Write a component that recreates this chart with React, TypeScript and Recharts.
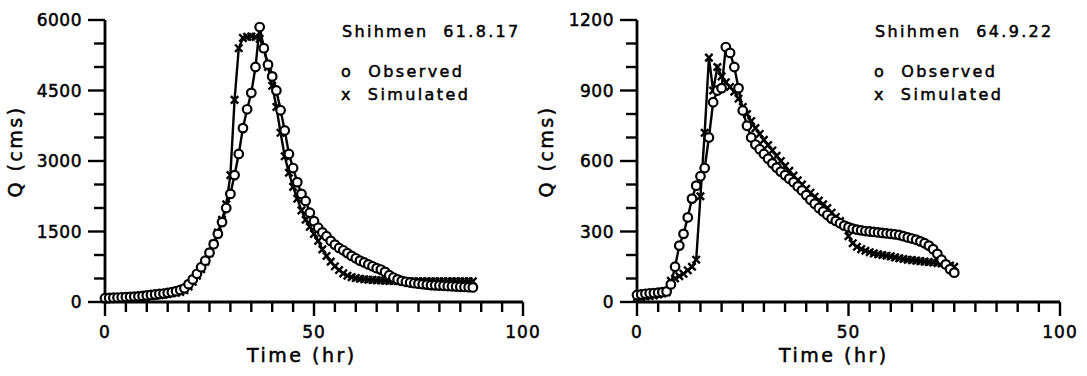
import { LineChart, Line, XAxis, YAxis } from 'recharts'

// Shihmen 61.8.17, hourly from t = 0
const obsA = [
  80, 85, 90, 95, 100, 105, 110, 115, 120, 130,
  140, 150, 160, 170, 180, 195, 210, 230, 255, 290,
  380, 480, 600, 740, 880, 1050, 1230, 1450, 1700, 2000,
  2300, 2700, 3150, 3700, 4100, 4450, 5000, 5850, 5400, 5050,
  4800, 4500, 4080, 3650, 3150, 2850, 2550, 2300, 2150, 1900,
  1720, 1580, 1480, 1400, 1300, 1220, 1150, 1100, 1040, 980,
  930, 880, 840, 800, 760, 720, 690, 640, 570, 520,
  480, 450, 430, 415, 400, 390, 380, 370, 360, 355,
  350, 345, 340, 335, 330, 325, 320, 315, 310,
]
const simA = [
  60, 65, 70, 75, 80, 85, 90, 95, 100, 105,
  115, 125, 135, 145, 155, 170, 185, 200, 215, 250,
  330, 430, 560, 700, 860, 1040, 1240, 1480, 1750, 2080,
  2700, 4300, 5400, 5620, 5640, 5650, 5640, 5600, 5400, 5000,
  4600, 4150, 3600, 3100, 2750, 2450, 2200, 1950, 1750, 1600,
  1450, 1300, 1120, 980, 860, 760, 680, 610, 560, 530,
  510, 495, 485, 475, 470, 465, 460, 455, 450, 448,
  446, 444, 442, 440, 440, 440, 440, 440, 440, 440,
  440, 440, 440, 440, 440, 440, 440, 440, 440,
]

// Shihmen 64.9.22, hourly from t = 0
const obsB = [
  30, 32, 35, 37, 38, 40, 42, 45, 75, 150,
  240, 290, 360, 440, 495, 535, 570, 700, 850, 900,
  910, 1085, 1060, 1000, 910, 815, 750, 700, 670, 650,
  630, 610, 590, 572, 555, 540, 525, 510, 492, 475,
  455, 435, 418, 400, 385, 370, 355, 345, 335, 325,
  318, 312, 308, 305, 302, 300, 298, 296, 294, 292,
  290, 288, 285, 280, 275, 270, 265, 258, 250, 240,
  225, 205, 180, 160, 140, 125,
]
const simB = [
  20, 22, 24, 26, 28, 32, 36, 42, 90, 100,
  110, 120, 135, 150, 180, 450, 720, 1040, 900, 1000,
  960, 935, 915, 895, 865, 830, 800, 770, 740, 715,
  690, 668, 645, 622, 600, 578, 558, 538, 518, 500,
  482, 465, 448, 432, 416, 400, 380, 362, 345, 325,
  280, 250, 235, 225, 218, 212, 207, 203, 200, 197,
  194, 190, 186, 183, 180, 178, 176, 174, 172, 170,
  168, 166, 164, 160, 155, 150,
]

const timeTicks = [0, 5, 10, 15, 20, 25, 30, 35, 40, 45, 50, 55, 60, 65, 70, 75, 80, 85, 90, 95, 100]
const qTicksA = [0, 500, 1000, 1500, 2000, 2500, 3000, 3500, 4000, 4500, 5000, 5500, 6000]
const qTicksB = [0, 100, 200, 300, 400, 500, 600, 700, 800, 900, 1000, 1100, 1200]

const font = '"DejaVu Sans", sans-serif'

const toRows = (obs: number[], sim: number[]) =>
  obs.map((q, i) => ({ t: i, obs: q, sim: sim[i] }))

function XTick({ x, y, payload }: any) {
  const major = payload.value % 50 === 0
  return (
    <g>
      <line x1={x} y1={y} x2={x} y2={y + (major ? 14 : 10)} stroke="#000" strokeWidth={2.4} />
      {major && (
        <text x={x} y={y + 36} textAnchor="middle" fontSize={17} fontFamily={font} fill="#000"
          stroke="#000" strokeWidth={0.5} letterSpacing={1}>
          {payload.value}
        </text>
      )}
    </g>
  )
}

function makeYTick(step: number) {
  return function YTick({ x, y, payload }: any) {
    const major = payload.value % step === 0
    return (
      <g>
        <line x1={x} y1={y} x2={x - (major ? 17 : 11)} y2={y} stroke="#000" strokeWidth={2.4} />
        {major && (
          <text x={x - 23} y={y} dy="0.36em" textAnchor="end" fontSize={17} fontFamily={font} fill="#000"
            stroke="#000" strokeWidth={0.5} letterSpacing={0.5}>
            {payload.value}
          </text>
        )}
      </g>
    )
  }
}

const circleDot = (p: any) => (
  <circle key={`o${p.index}`} cx={p.cx} cy={p.cy} r={4.3} fill="#fff" stroke="#000" strokeWidth={2.2} />
)
const crossDot = (p: any) => (
  <path
    key={`x${p.index}`}
    d={`M${p.cx - 3.7},${p.cy - 3.7}L${p.cx + 3.7},${p.cy + 3.7}M${p.cx - 3.7},${p.cy + 3.7}L${p.cx + 3.7},${p.cy - 3.7}`}
    stroke="#000"
    strokeWidth={2.4}
  />
)

function Panel({ rows, yMax, yTicks, step, width, margin }: any) {
  return (
    <LineChart width={width} height={376} data={rows} margin={margin}>
      <XAxis
        dataKey="t"
        type="number"
        domain={[0, 100]}
        ticks={timeTicks}
        interval={0}
        tickSize={0}
        tickMargin={0}
        tickLine={false}
        tick={<XTick />}
        axisLine={{ stroke: '#000', strokeWidth: 2.8 }}
        height={30}
      />
      <YAxis
        type="number"
        domain={[0, yMax]}
        ticks={yTicks}
        interval={0}
        tickSize={0}
        tickMargin={0}
        tickLine={false}
        tick={makeYTick(step)}
        axisLine={{ stroke: '#000', strokeWidth: 2.8 }}
        width={60}
      />
      <Line dataKey="sim" stroke="#000" strokeWidth={2.4} dot={crossDot} isAnimationActive={false} />
      <Line dataKey="obs" stroke="#000" strokeWidth={2.4} dot={circleDot} isAnimationActive={false} />
    </LineChart>
  )
}

const txt = (left: number, top: number, size: number, spacing: number) => ({
  position: 'absolute' as const,
  left,
  top,
  fontSize: size,
  letterSpacing: spacing,
  fontFamily: font,
  color: '#000',
  lineHeight: 1,
  whiteSpace: 'nowrap' as const,
  WebkitTextStroke: '0.5px #000',
})

export default function App() {
  return (
    <div style={{ position: 'absolute', left: 0, top: 0, width: 1087, height: 376, background: '#fff', overflow: 'hidden' }}>
      <div style={{ position: 'absolute', left: 0, top: 0 }}>
        <Panel
          rows={toRows(obsA, simA)}
          yMax={6000}
          yTicks={qTicksA}
          step={1500}
          width={540}
          margin={{ top: 20, right: 17, left: 45, bottom: 44 }}
        />
      </div>
      <div style={{ position: 'absolute', left: 540, top: 0 }}>
        <Panel
          rows={toRows(obsB, simB)}
          yMax={1200}
          yTicks={qTicksB}
          step={300}
          width={547}
          margin={{ top: 20, right: 27, left: 37, bottom: 44 }}
        />
      </div>

      <div style={txt(342, 24, 16, 2.3)}>Shihmen&nbsp;&nbsp;61.8.17</div>
      <div style={txt(341, 64, 16, 2.4)}>o&nbsp;&nbsp;Observed</div>
      <div style={txt(341, 87, 16, 2.4)}>x&nbsp;&nbsp;Simulated</div>

      <div style={txt(875, 24, 16, 2.3)}>Shihmen&nbsp;&nbsp;64.9.22</div>
      <div style={txt(874, 64, 16, 2.4)}>o&nbsp;&nbsp;Observed</div>
      <div style={txt(874, 87, 16, 2.4)}>x&nbsp;&nbsp;Simulated</div>

      <div style={txt(247, 346, 19, 2.5)}>Time (hr)</div>
      <div style={txt(779, 346, 19, 2.5)}>Time (hr)</div>

      <div style={{ ...txt(-40, 142, 19, 2.5), width: 110, textAlign: 'center', transform: 'rotate(-90deg)' }}>Q (cms)</div>
      <div style={{ ...txt(491, 142, 19, 2.5), width: 110, textAlign: 'center', transform: 'rotate(-90deg)' }}>Q (cms)</div>
    </div>
  )
}
